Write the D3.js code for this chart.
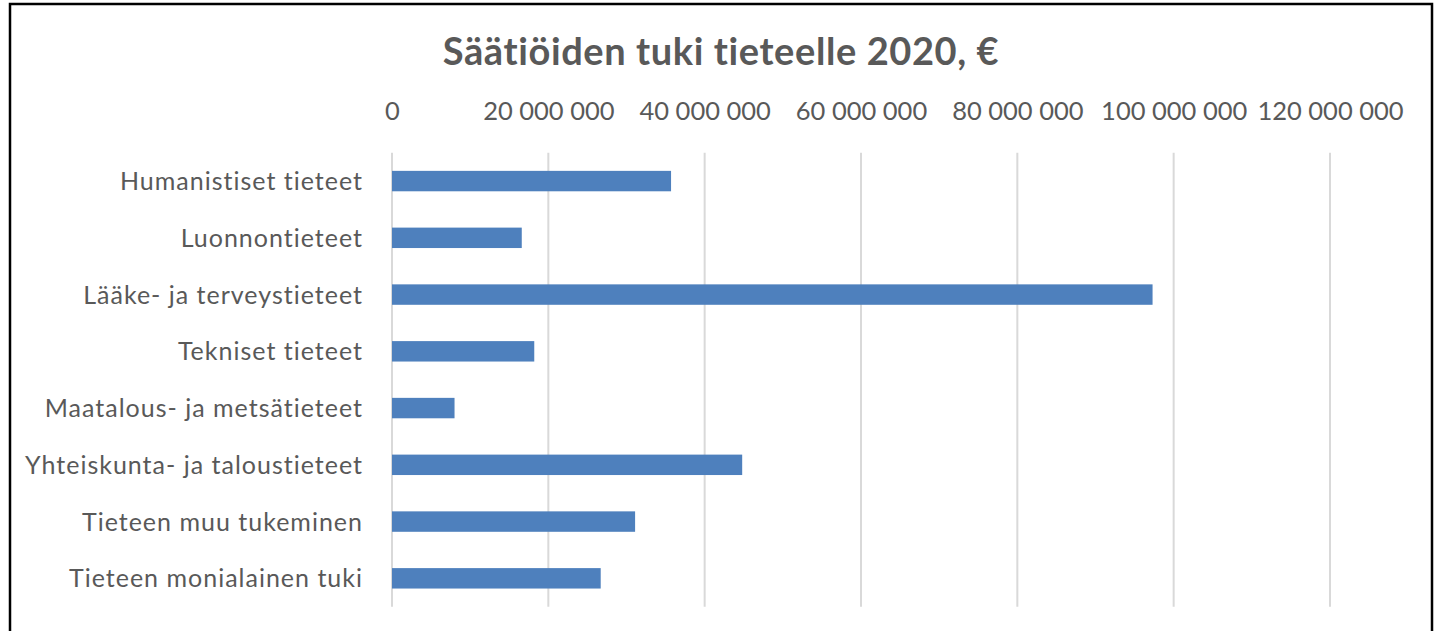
<!DOCTYPE html>
<html>
<head>
<meta charset="utf-8">
<script src="https://cdn.jsdelivr.net/npm/d3@7"></script>
<style>
  html, body { margin: 0; padding: 0; background: #fff; }
  svg { display: block; }
</style>
</head>
<body>
<svg id="chart" width="1442" height="631"></svg>
<script>
const categories = [
  "Humanistiset tieteet",
  "Luonnontieteet",
  "Lääke- ja terveystieteet",
  "Tekniset tieteet",
  "Maatalous- ja metsätieteet",
  "Yhteiskunta- ja taloustieteet",
  "Tieteen muu tukeminen",
  "Tieteen monialainen tuki"
];
const values = [35700000, 16600000, 97300000, 18200000, 8000000, 44800000, 31100000, 26700000];
const tickValues = [0, 20000000, 40000000, 60000000, 80000000, 100000000, 120000000];
const titleText = "Säätiöiden tuki tieteelle 2020, €";

const svg = d3.select("#chart");
const plot = { left: 392, right: 1330, top: 152.7, bottom: 606.7 };
const textColor = "#595959";
const font = "Lato, 'Open Sans', sans-serif";

// frame
svg.append("rect")
  .attr("x", 10).attr("y", 4)
  .attr("width", 1422).attr("height", 660)
  .attr("fill", "#fff")
  .attr("stroke", "#000").attr("stroke-width", 2.5);

const x = d3.scaleLinear().domain([0, 120000000]).range([plot.left, plot.right]);
const y = d3.scaleBand().domain(categories).range([plot.top, plot.bottom])
  .paddingInner(0.64).paddingOuter(0.32);

// title
svg.append("text")
  .attr("x", 721).attr("y", 65)
  .attr("text-anchor", "middle")
  .attr("font-family", font)
  .attr("font-weight", "bold")
  .attr("font-size", 38)
  .attr("letter-spacing", 0.6)
  .attr("fill", textColor)
  .text(titleText);

// gridlines
svg.append("g").selectAll("line")
  .data(tickValues)
  .join("line")
  .attr("x1", d => x(d)).attr("x2", d => x(d))
  .attr("y1", plot.top).attr("y2", plot.bottom)
  .attr("stroke", "#d9d9d9").attr("stroke-width", 2);

// top axis labels
const fmt = d => d3.format(",")(d).replace(/,/g, " ");
const axis = d3.axisTop(x).tickValues(tickValues).tickFormat(fmt).tickSize(0).tickPadding(0);
const gAxis = svg.append("g").attr("transform", "translate(0,120)").call(axis);
gAxis.select(".domain").remove();
gAxis.selectAll("text")
  .attr("font-family", font)
  .attr("font-size", 25.5)
  .attr("fill", textColor)
  .attr("dy", 0)
  .attr("y", 0);

// bars
svg.append("g").selectAll("rect")
  .data(values)
  .join("rect")
  .attr("x", x(0))
  .attr("y", (d, i) => y(categories[i]))
  .attr("width", d => x(d) - x(0))
  .attr("height", y.bandwidth())
  .attr("fill", "#4e80bd");

// category labels
const yAxis = d3.axisLeft(y).tickSize(0).tickPadding(0);
const gY = svg.append("g").attr("transform", `translate(${plot.left - 29},0)`).call(yAxis);
gY.select(".domain").remove();
gY.selectAll("text")
  .attr("font-family", font)
  .attr("font-size", 25)
  .attr("letter-spacing", 1)
  .attr("fill", textColor)
  .attr("dy", "0.36em");
</script>
</body>
</html>
